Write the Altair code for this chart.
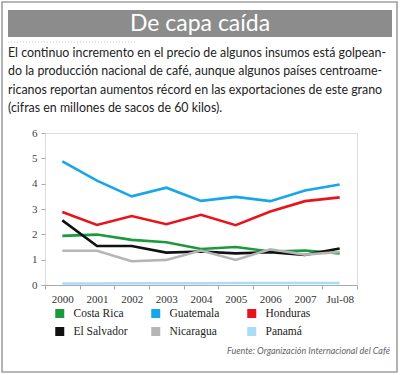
import altair as alt
import pandas as pd

years = ["2000", "2001", "2002", "2003", "2004", "2005", "2006", "2007", "Jul-08"]
countries = ["Costa Rica", "Guatemala", "Honduras", "El Salvador", "Nicaragua", "Panamá"]
colors = ["#1a9a3c", "#18a6ea", "#e8141b", "#111111", "#b5b5b5", "#a9dcf5"]

costa_rica = [1.94, 1.99, 1.78, 1.69, 1.42, 1.50, 1.32, 1.36, 1.25]
guatemala = [4.88, 4.12, 3.50, 3.84, 3.32, 3.48, 3.31, 3.73, 3.97]
honduras = [2.88, 2.37, 2.72, 2.40, 2.77, 2.36, 2.90, 3.31, 3.46]
el_salvador = [2.55, 1.54, 1.54, 1.28, 1.32, 1.25, 1.29, 1.19, 1.44]
nicaragua = [1.35, 1.35, 0.94, 0.99, 1.36, 0.99, 1.41, 1.20, 1.30]
panama = [0.06, 0.06, 0.07, 0.07, 0.07, 0.08, 0.08, 0.08, 0.08]

series = [costa_rica, guatemala, honduras, el_salvador, nicaragua, panama]

title_text = "De capa caída"
paragraph = [
    "El continuo incremento en el precio de algunos insumos está golpean-",
    "do la producción nacional de café, aunque algunos países centroame-",
    "ricanos reportan aumentos récord en las exportaciones de este grano",
    "(cifras en millones de sacos de 60 kilos).",
]
source = "Fuente: Organización Internacional del Café"

rows = []
for c, vals in zip(countries, series):
    for y, v in zip(years, vals):
        rows.append({"year": y, "country": c, "value": v})
df = pd.DataFrame(rows)

SANS = "Lato, sans-serif"
SERIF = "Liberation Serif, DejaVu Serif, serif"

one = alt.Data(values=[{}])

lines = alt.Chart(df).mark_line(strokeWidth=2.6, clip=False).encode(
    x=alt.X("year:N", sort=years,
            scale=alt.Scale(type="band", paddingInner=0, paddingOuter=0),
            axis=alt.Axis(title=None, labelAngle=0, labelFont=SERIF, labelFontSize=11,
                          labelColor="#333", tickBand="extent", tickSize=4,
                          tickColor="#aaa", domainColor="#aaa", grid=False,
                          labelPadding=4)),
    y=alt.Y("value:Q", scale=alt.Scale(domain=[0, 6]),
            axis=alt.Axis(title=None, values=[0, 1, 2, 3, 4, 5, 6], labelFont=SERIF,
                          labelFontSize=11, labelColor="#444", tickSize=4,
                          tickColor="#aaa", domain=False, gridColor="#d4d4d4",
                          labelPadding=4)),
    color=alt.Color("country:N", sort=countries,
                    scale=alt.Scale(domain=countries, range=colors),
                    legend=alt.Legend(title=None, orient="none", legendX=9, legendY=174,
                                      direction="horizontal",
                                      columns=3, symbolType="square", symbolSize=9,
                                      symbolStrokeWidth=6, labelFont=SERIF,
                                      labelFontSize=11.5, labelColor="#222",
                                      columnPadding=22, rowPadding=5, labelOffset=8,
                                      clipHeight=13, gridAlign="all")),
    order=alt.Order("country:N"),
)

border = alt.Chart(one).mark_rect(fill=None, stroke="#a0a0a0", strokeWidth=1.6).encode(
    x=alt.value(-43), x2=alt.value(352), y=alt.value(-131), y2=alt.value(239))

title_bar = alt.Chart(one).mark_rect(fill="#8c8c8c").encode(
    x=alt.value(-37), x2=alt.value(347), y=alt.value(-123), y2=alt.value(-96))

dots = alt.Chart(one).mark_rule(stroke="#c8c8c8", strokeDash=[1, 2], strokeWidth=1).encode(
    x=alt.value(-37), x2=alt.value(90), y=alt.value(-91))

title = alt.Chart(one).mark_text(text=title_text, font=SANS, fontSize=23, color="white",
                                 align="center", baseline="alphabetic").encode(
    x=alt.value(155), y=alt.value(-102))

para_df = pd.DataFrame({"line": paragraph, "i": range(len(paragraph))})
para = alt.Chart(para_df).mark_text(font=SANS, fontSize=12.4, color="#222",
                                    align="left", baseline="alphabetic").encode(
    text="line:N",
    x=alt.value(-37),
    y=alt.Y("i:O", scale=alt.Scale(type="point", domain=[0, 1, 2, 3], padding=0,
                                    range=[-76, -21]), axis=None),
)

src = alt.Chart(one).mark_text(text=source, font=SANS, fontSize=9, fontStyle="italic",
                               color="#666", align="right", baseline="alphabetic").encode(
    x=alt.value(345), y=alt.value(221))

chart = alt.layer(border, title_bar, dots, title, para, lines, src).resolve_scale(
    y="independent"
).properties(
    width=312, height=152,
    autosize=alt.AutoSizeParams(type="none"),
    padding={"left": 45, "top": 133, "right": 43, "bottom": 90},
).configure_view(stroke="#bbbbbb").configure(background="white")

chart.save("out.html", embed_options={"renderer": "svg", "actions": False})
